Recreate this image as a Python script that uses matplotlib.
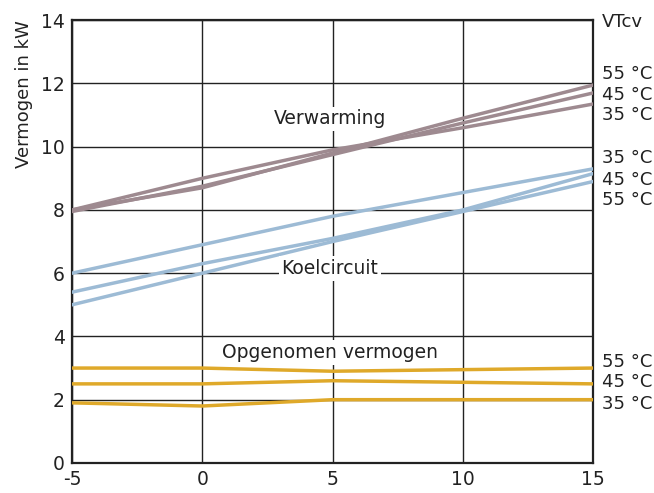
import matplotlib
matplotlib.use("Agg")
import matplotlib.pyplot as plt

# buitentemperatuur
x = [-5, 0, 5, 10, 15]

# Verwarming (VTcv 35/45/55 °C)
verw_35 = [8.0, 9.0, 9.9, 10.6, 11.35]
verw_45 = [7.95, 8.75, 9.75, 10.75, 11.7]
verw_55 = [8.0, 8.7, 9.8, 10.9, 11.95]

# Koelcircuit
koel_35 = [6.0, 6.9, 7.8, 8.55, 9.3]
koel_45 = [5.4, 6.3, 7.1, 8.0, 9.15]
koel_55 = [5.0, 6.0, 7.0, 7.95, 8.9]

# Opgenomen vermogen
opg_35 = [1.9, 1.8, 2.0, 2.0, 2.0]
opg_45 = [2.5, 2.5, 2.6, 2.55, 2.5]
opg_55 = [3.0, 3.0, 2.9, 2.95, 3.0]

labels_verw = [("55 °C", 12.3), ("45 °C", 11.65), ("35 °C", 11.0)]
labels_koel = [("35 °C", 9.65), ("45 °C", 8.95), ("55 °C", 8.3)]
labels_opg = [("55 °C", 3.2), ("45 °C", 2.55), ("35 °C", 1.85)]

c_verw = "#9e8a90"
c_koel = "#9dbbd5"
c_opg = "#dfa92a"

plt.rcParams['font.family'] = ['DejaVu Sans']
plt.rcParams['axes.unicode_minus'] = False
fig = plt.figure(figsize=(6.54, 4.93), dpi=100)
ax = fig.add_axes([0.110, 0.061, 0.797, 0.898])

for y in (verw_35, verw_45, verw_55):
    ax.plot(x, y, color=c_verw, lw=2.5, zorder=3)
for y in (koel_35, koel_45, koel_55):
    ax.plot(x, y, color=c_koel, lw=2.5, zorder=3)
for y in (opg_35, opg_45, opg_55):
    ax.plot(x, y, color=c_opg, lw=2.5, zorder=3)

ax.set_xlim(-5, 15)
ax.set_ylim(0, 14)
ax.set_xticks([-5, 0, 5, 10, 15])
ax.set_yticks(range(0, 15, 2))
ax.grid(True, color="#222222", lw=1.0, zorder=1)
ax.tick_params(length=0, labelsize=13.5, colors="#222222", pad=5)
for s in ax.spines.values():
    s.set_linewidth(1.6)
    s.set_color("#222222")
ax.set_ylabel("Vermogen in kW", fontsize=13, color="#222222", loc="top", labelpad=6)

box = dict(facecolor="white", edgecolor="none", pad=2)
ax.text(4.9, 10.88, "Verwarming", fontsize=13.5, ha="center", va="center", bbox=box, zorder=4, color="#222222")
ax.text(4.9, 6.15, "Koelcircuit", fontsize=13.5, ha="center", va="center", bbox=box, zorder=4, color="#222222")
ax.text(4.9, 3.5, "Opgenomen vermogen", fontsize=13.5, ha="center", va="center", bbox=box, zorder=4, color="#222222")

ax.text(15.35, 13.95, "VTcv", fontsize=13, ha="left", va="center", color="#222222", clip_on=False)
for lab, yy in labels_verw + labels_koel + labels_opg:
    ax.text(15.35, yy, lab, fontsize=13, ha="left", va="center", color="#222222", clip_on=False)

fig.savefig("out.png", dpi=100)
